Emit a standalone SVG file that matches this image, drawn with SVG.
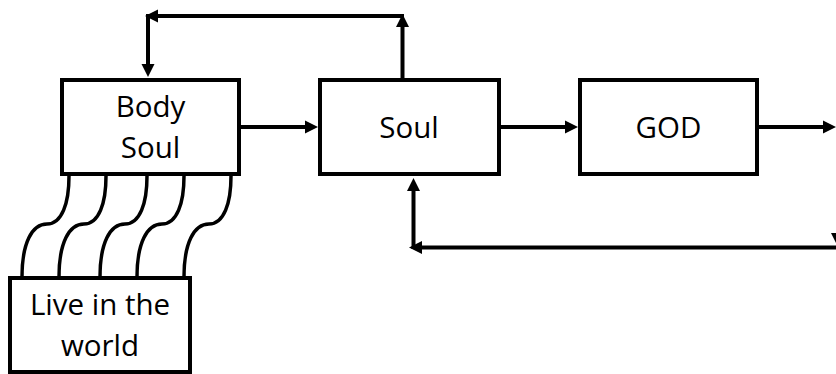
<svg xmlns="http://www.w3.org/2000/svg" width="836" height="374" viewBox="0 0 836 374">
<defs>
<style>
.box{fill:#fff;stroke:#000;stroke-width:4}
.lbl{font-family:"Open Sans","Noto Sans","Liberation Sans",sans-serif;font-size:29.5px;fill:#000;text-anchor:middle}
.ln{fill:none;stroke:#000;stroke-width:4}
.wv{fill:none;stroke:#000;stroke-width:3.5}
</style>
<marker id="ah" markerUnits="userSpaceOnUse" markerWidth="14" markerHeight="14" viewBox="0 -7 14 14" refX="1" refY="0" orient="auto">
<path d="M0,-6.5 L13,0 L0,6.5 z" fill="#000"/>
</marker>
</defs>
<rect width="836" height="374" fill="#fff"/>
<g id="connectors">
<path class="ln" d="M241,127 H306" marker-end="url(#ah)"/>
<path class="ln" d="M501,127 H566" marker-end="url(#ah)"/>
<path class="ln" d="M759,127 H824" marker-end="url(#ah)"/>
<path class="ln" d="M402.5,78 V26" marker-end="url(#ah)"/>
<path class="ln" d="M404,16 H157" marker-end="url(#ah)"/>
<path class="ln" d="M148,14 V65" marker-end="url(#ah)"/>
<path class="ln" d="M413.5,249 V190" marker-end="url(#ah)"/>
<path class="ln" d="M840,247.5 H421" marker-end="url(#ah)"/>
<polygon points="831,233 844,233 837.5,246" fill="#000"/>
<g id="ties">
<path class="wv" d="M69,176 C69,203 62,224 47,224 C32,224 22,243 22,277"/>
<path class="wv" d="M106,176 C106,203 99,224 84,224 C69,224 59,243 59,277"/>
<path class="wv" d="M147,176 C147,203 140,224 125,224 C110,224 100,243 100,277"/>
<path class="wv" d="M184,176 C184,203 177,224 162,224 C147,224 137,243 137,277"/>
<path class="wv" d="M231,176 C231,203 224,224 209,224 C194,224 184,243 184,277"/>
</g>
</g>
<g id="bodysoul">
<rect class="box" x="62" y="80" width="177" height="94"/>
<text class="lbl" x="150.5" y="117">Body</text>
<text class="lbl" x="150.5" y="158">Soul</text>
</g>
<g id="soul">
<rect class="box" x="320" y="80" width="179" height="94"/>
<text class="lbl" x="409" y="138">Soul</text>
</g>
<g id="god">
<rect class="box" x="580" y="80" width="177" height="94"/>
<text class="lbl" x="668.5" y="137.5">GOD</text>
</g>
<g id="world">
<rect class="box" x="10" y="278" width="180" height="94"/>
<text class="lbl" x="100" y="315">Live in the</text>
<text class="lbl" x="100" y="356">world</text>
</g>
</svg>
